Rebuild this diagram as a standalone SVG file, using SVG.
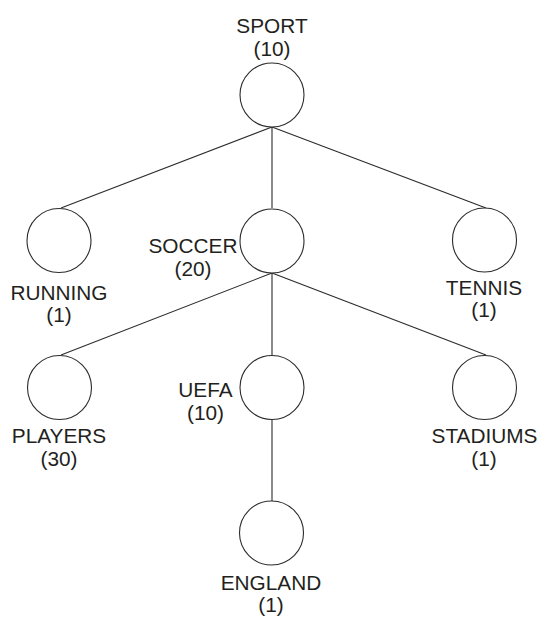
<svg xmlns="http://www.w3.org/2000/svg" width="538" height="620" viewBox="0 0 538 620">
<style>
.n{fill:#fff;stroke:#2b2b2b;stroke-width:1.1}
.e{stroke:#2b2b2b;stroke-width:1.1;fill:none}
text{font-family:"Liberation Sans",Arial,sans-serif;font-size:20.8px;fill:#231f20;text-anchor:middle}
</style>
<rect width="538" height="620" fill="#fff"/>
<g id="connectors">
<line class="e" x1="272" y1="127" x2="61" y2="208"/>
<line class="e" x1="272" y1="127" x2="272" y2="208"/>
<line class="e" x1="272" y1="127" x2="486" y2="208"/>
<line class="e" x1="272" y1="273" x2="61" y2="355"/>
<line class="e" x1="272" y1="273" x2="272" y2="355"/>
<line class="e" x1="272" y1="273" x2="486" y2="355"/>
<line class="e" x1="272" y1="420" x2="272" y2="501"/>
</g>
<g id="sport"><circle class="n" cx="272" cy="95" r="32"/><text x="272" y="33">SPORT</text><text x="272" y="55.5">(10)</text></g>
<g id="running"><circle class="n" cx="59" cy="240.5" r="32"/><text x="59" y="300">RUNNING</text><text x="59" y="322">(1)</text></g>
<g id="soccer"><circle class="n" cx="272" cy="241" r="32"/><text x="193" y="253">SOCCER</text><text x="193" y="275.5">(20)</text></g>
<g id="tennis"><circle class="n" cx="484.5" cy="240" r="32"/><text x="484" y="295">TENNIS</text><text x="484" y="317">(1)</text></g>
<g id="players"><circle class="n" cx="59.5" cy="387.5" r="32"/><text x="59" y="443">PLAYERS</text><text x="59" y="465.5">(30)</text></g>
<g id="uefa"><circle class="n" cx="272" cy="387.5" r="32"/><text x="205.5" y="397">UEFA</text><text x="205.5" y="419.5">(10)</text></g>
<g id="stadiums"><circle class="n" cx="484.5" cy="387.5" r="32"/><text x="484.5" y="443">STADIUMS</text><text x="484" y="465.5">(1)</text></g>
<g id="england"><circle class="n" cx="271.5" cy="533" r="32"/><text x="271" y="590">ENGLAND</text><text x="271" y="612">(1)</text></g>
</svg>
